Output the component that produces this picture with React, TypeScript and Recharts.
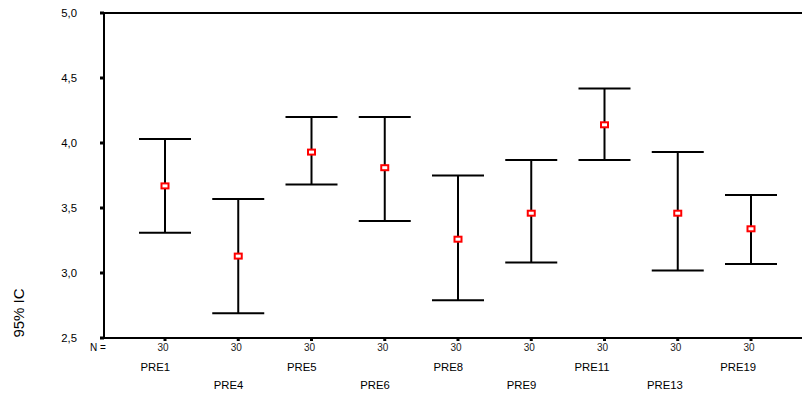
import React from 'react';
import { ComposedChart, Scatter, ErrorBar, XAxis, YAxis, ReferenceLine } from 'recharts';

const categories = ['PRE1', 'PRE4', 'PRE5', 'PRE6', 'PRE8', 'PRE9', 'PRE11', 'PRE13', 'PRE19'];
const means = [3.67, 3.13, 3.93, 3.81, 3.26, 3.46, 4.14, 3.46, 3.34];
const lower = [3.31, 2.69, 3.68, 3.40, 2.79, 3.08, 3.87, 3.02, 3.07];
const upper = [4.03, 3.57, 4.20, 4.20, 3.75, 3.87, 4.42, 3.93, 3.60];
const counts = [30, 30, 30, 30, 30, 30, 30, 30, 30];
const yTicks = [2.5, 3.0, 3.5, 4.0, 4.5, 5.0];

const data = categories.map((name, i) => ({
  name,
  mean: means[i],
  err: [means[i] - lower[i], upper[i] - means[i]],
}));

const FONT = '"Liberation Sans", Arial, sans-serif';

const XTick = (props: any) => {
  const { x, y, payload } = props;
  const i = payload.index;
  return (
    <g fontFamily={FONT}>
      <text x={x - 2} y={y + 10} textAnchor="middle" fontSize={10} fill="#222">{counts[i]}</text>
      <text x={x + 5} y={y + (i % 2 === 0 ? 30 : 48)} textAnchor="end" fontSize={11.3} fill="#000">{payload.value}</text>
    </g>
  );
};

const Marker = (props: any) => {
  const { cx, cy } = props;
  return <rect x={cx - 3.5} y={cy - 2.5} width={7} height={5} fill="#fff" stroke="#ff0000" strokeWidth={2} />;
};

export default function App() {
  return (
    <div style={{ position: 'absolute', left: 0, top: 0, width: 802, height: 396, background: '#fff', overflow: 'hidden' }}>
      <ComposedChart width={802} height={396} data={data} margin={{ top: 13, right: 0, bottom: 0, left: 0 }}>
        <XAxis
          dataKey="name"
          type="category"
          height={58}
          padding={{ left: 61, right: 51 }}
          axisLine={{ stroke: '#000', strokeWidth: 2 }}
          tickLine={{ stroke: '#000', strokeWidth: 3 }}
          tickSize={3}
          tickMargin={0}
          tick={<XTick />}
          interval={0}
        />
        <YAxis
          type="number"
          domain={[2.5, 5]}
          ticks={yTicks}
          allowDataOverflow
          width={104}
          axisLine={{ stroke: '#000', strokeWidth: 2 }}
          tickLine={{ stroke: '#000', strokeWidth: 3 }}
          tickSize={4}
          tickMargin={23}
          tick={{ fontSize: 11.3, fill: '#000', fontFamily: FONT }}
          tickFormatter={(v: number) => v.toFixed(1).replace('.', ',')}
        />
        <ReferenceLine y={5} stroke="#000" strokeWidth={2} ifOverflow="visible" />
        <Scatter dataKey="mean" shape={<Marker />} isAnimationActive={false}>
          <ErrorBar dataKey="err" direction="y" width={26} stroke="#000" strokeWidth={2} isAnimationActive={false} />
        </Scatter>
      </ComposedChart>
      <div style={{ position: 'absolute', left: 90, top: 342, fontSize: 10, fontFamily: FONT, color: '#000', lineHeight: '12px', whiteSpace: 'nowrap' }}>N =</div>
      <div
        style={{
          position: 'absolute',
          left: 18,
          top: 313,
          fontSize: 15,
          fontFamily: FONT,
          color: '#000',
          whiteSpace: 'nowrap',
          transform: 'translate(-50%, -50%) rotate(-90deg)',
        }}
      >
        95% IC
      </div>
    </div>
  );
}
